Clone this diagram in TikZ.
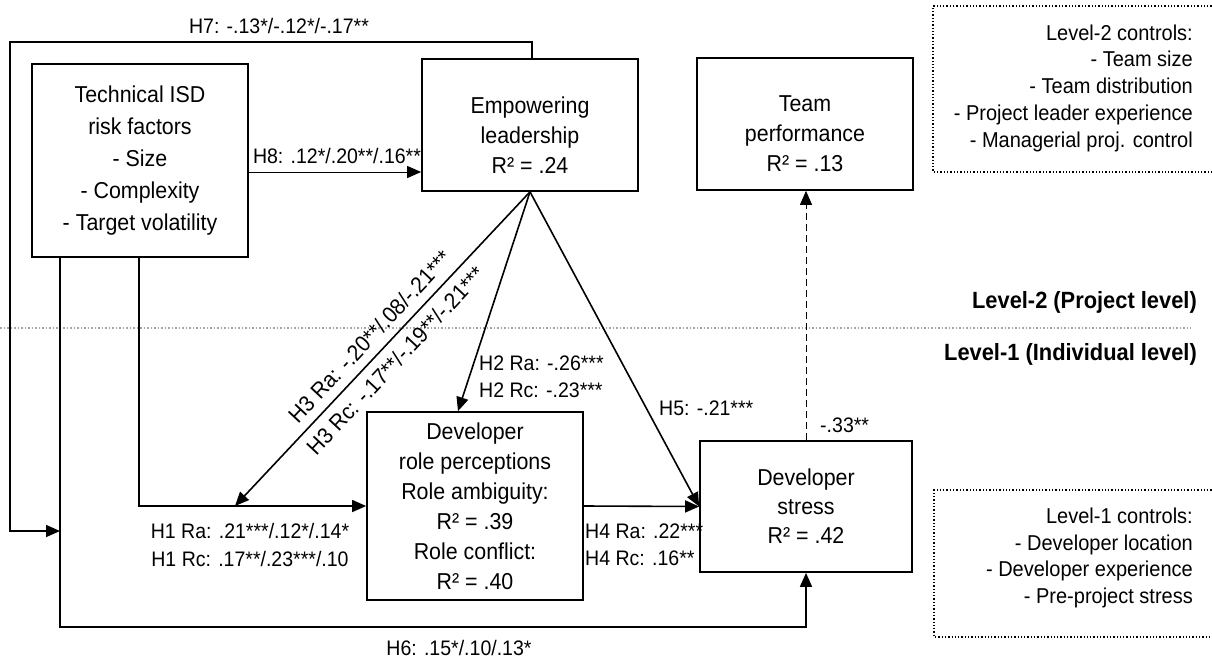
\documentclass[tikz,border=0pt]{standalone}
\usepackage{fontspec}
\setmainfont[FakeStretch=0.93]{Liberation Sans}
\usetikzlibrary{arrows.meta,calc}
\begin{document}
\begin{tikzpicture}[x=1pt,y=-1pt,
  box/.style={draw, line width=1.7pt, inner sep=0pt, align=center},
  btext/.style={font=\fontsize{23}{#1}\selectfont, inner sep=0pt, align=center},
  lbl/.style={font=\fontsize{21}{27.5}\selectfont, inner sep=0pt},
  h3lbl/.style={font=\fontsize{22.5}{24}\selectfont, inner sep=0pt, rotate=46.9},
  ctrl/.style={font=\fontsize{21.5}{26.75}\selectfont, align=right, inner sep=0pt},
  lvl/.style={font=\fontsize{23.5}{25}\selectfont\bfseries, inner sep=0pt},
  conn/.style={line width=1.6pt, -{Triangle[length=14pt,width=12pt]}},
  thinconn/.style={line width=0.9pt, -{Triangle[length=14pt,width=12pt]}},
  dconn/.style={line width=0.9pt, dash pattern=on 7pt off 4pt, -{Triangle[length=14pt,width=12pt]}},
  frame/.style={line width=1.3pt, dotted},
  divider/.style={line width=1.5pt, dotted, black!35}
]
\useasboundingbox (0,0) rectangle (1212,661);

% boxes
\node[box, minimum width=216pt, minimum height=193pt, btext=32] (tech) at (140,160.5)
  {Technical ISD\\risk factors\\- Size\\- Complexity\\- Target volatility};
\node[box, minimum width=216pt, minimum height=132pt] (emp) at (530,125) {};
\node[btext=30, anchor=north] (empt) at (530,97) {Empowering\\leadership\\R² = .24};
\node[box, minimum width=216pt, minimum height=132pt] (team) at (805,124) {};
\node[btext=30, anchor=north] (teamt) at (805,95) {Team\\performance\\R² = .13};
\node[box, minimum width=216pt, minimum height=188pt, btext=30] (role) at (475,506)
  {Developer\\role perceptions\\Role ambiguity:\\R² = .39\\Role conflict:\\R² = .40};
\node[box, minimum width=212pt, minimum height=131pt, btext=29] (stress) at (806,506.5)
  {Developer\\stress\\R² = .42};

% controls
\draw[frame] (1215,6) -- (933,6) -- (933,172) -- (1215,172);
\node[ctrl, anchor=east] (ctrl2) at (1193,88)
  {Level-2 controls:\\- Team size\\- Team distribution\\- Project leader experience\\- Managerial proj. control};
\draw[frame] (1215,490) -- (934,490) -- (934,637) -- (1215,637);
\node[ctrl, anchor=east] (ctrl1) at (1193,558)
  {Level-1 controls:\\- Developer location\\- Developer experience\\- Pre-project stress};

% level divider
\draw[divider] (0,328) -- (1191,328);
\node[lvl, anchor=east] (lv2) at (1197,302) {Level-2 (Project level)};
\node[lvl, anchor=east] (lv1) at (1197,354) {Level-1 (Individual level)};

% helper coordinates
\coordinate (h8) at (0,172);
\coordinate (h7top) at (532,42);
\coordinate (tl) at (10,42);
\coordinate (bl) at (10,531);
\coordinate (h7end) at (60,531);
\coordinate (h6c) at (60,627);
\coordinate (h1x) at (139,0);
\coordinate (h2x) at (458,0);
\coordinate (h3end) at (235,506);

% H8
\draw[thinconn] (tech.east |- h8) -- (emp.west |- h8);
\node[lbl] (h8l) at (337,156) {H8: .12*/.20**/.16**};

% H7
\draw[conn] (h7top |- emp.north) -- (h7top) -- (tl) -- (bl) -- (h7end);
\node[lbl] (h7l) at (279,26) {H7: -.13*/-.12*/-.17**};

% H6
\draw[conn] (h6c |- tech.south) -- (h6c) -- (h6c -| stress.south) -- (stress.south);
\node[lbl] (h6l) at (459,648) {H6: .15*/.10/.13*};

% H1
\draw[conn] (h1x |- tech.south) -- (h1x |- role.west) -- (role.west);
\node[lbl, align=center] (h1l) at (250,545) {H1 Ra: .21***/.12*/.14*\\H1 Rc: .17**/.23***/.10};

% H3
\draw[conn] (emp.south) -- (h3end);
\node[h3lbl] (h3a) at (369.5,336.5) {H3 Ra: -.20**/.08/-.21***};
\node[h3lbl] (h3c) at (395.5,360.5) {H3 Rc: -.17**/-.19**/-.21***};

% H2
\draw[conn] (emp.south) -- (h2x |- role.north);
\node[lbl, align=left, anchor=west] (h2l) at (479,377) {H2 Ra: -.26***\\H2 Rc: -.23***};

% H5
\draw[conn] (emp.south) -- (stress.west);
\node[lbl, anchor=west] (h5l) at (659,408) {H5: -.21***};

% H4
\draw[conn] (role.east) -- (stress.west);
\node[lbl, align=left, anchor=west] (h4l) at (585,545) {H4 Ra: .22***\\H4 Rc: .16**};

% stress -> team
\draw[dconn] (stress.north) -- (stress.north |- team.south);
\node[lbl, anchor=west] (l33) at (820,425) {-.33**};
\end{tikzpicture}
\end{document}
